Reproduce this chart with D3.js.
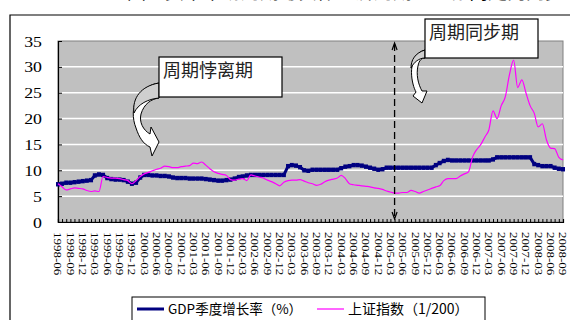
<!DOCTYPE html>
<html>
<head>
<meta charset="utf-8">
<script src="https://cdn.jsdelivr.net/npm/d3@7"></script>
<style>
  html, body { margin: 0; padding: 0; background: #fff; }
  svg { display: block; }
</style>
</head>
<body>
<svg id="chart" width="570" height="320"></svg>
<script>
// Monthly observations, June 1998 – September 2008
const monthStart = new Date(1998, 5, 1);
const monthEnd = new Date(2008, 9, 1);

// GDP quarterly growth rate (%), carried monthly
const gdpGrowth = [
  7.3, 7.4, 7.6, 7.6, 7.7, 7.8, 7.9, 8.0, 8.1, 9.0, 9.2, 9.1,
  8.5, 8.3, 8.2, 8.2, 8.1, 7.8, 7.4, 7.6, 8.6, 9.1, 9.1, 9.0,
  9.0, 8.9, 8.9, 8.8, 8.6, 8.5, 8.5, 8.5, 8.4, 8.4, 8.4, 8.4,
  8.3, 8.2, 8.1, 8.0, 8.0, 8.1, 8.2, 8.4, 8.7, 8.8, 9.0, 9.1,
  9.1, 9.1, 9.1, 9.1, 9.1, 9.1, 9.1, 9.1, 10.8, 11.0, 10.9, 10.6,
  10.0, 9.9, 10.1, 10.1, 10.1, 10.1, 10.1, 10.1, 10.1, 10.4, 10.7, 10.8,
  11.0, 11.0, 10.9, 10.7, 10.5, 10.3, 10.1, 10.2, 10.5, 10.5, 10.5, 10.5,
  10.5, 10.5, 10.5, 10.5, 10.5, 10.5, 10.5, 10.5, 11.0, 11.4, 11.8, 12.0,
  11.9, 11.9, 11.9, 11.9, 11.9, 11.9, 11.9, 11.9, 11.9, 11.9, 12.1, 12.5,
  12.5, 12.5, 12.5, 12.5, 12.5, 12.5, 12.5, 12.5, 11.2, 11.0, 10.8, 10.8,
  10.8, 10.5, 10.3, 10.2
];

// Shanghai Composite Index divided by 200
const shIndex = [
  7.4, 6.8, 6.2, 6.4, 6.6, 6.5, 6.4, 6.1, 5.9, 6.0, 5.9, 8.8,
  8.6, 8.5, 8.5, 8.4, 8.2, 8.0, 7.4, 8.0, 8.8, 9.3, 9.6, 9.9,
  10.2, 10.4, 10.8, 10.7, 10.5, 10.5, 10.7, 10.8, 10.9, 11.4, 11.3, 11.6,
  11.0, 10.3, 9.7, 9.4, 9.2, 9.0, 8.2, 8.1, 8.3, 8.4, 8.0, 9.1,
  8.9, 8.7, 8.5, 8.1, 7.8, 7.4, 7.0, 7.7, 8.0, 8.1, 8.1, 8.2,
  7.9, 7.6, 7.4, 7.1, 7.3, 7.8, 8.1, 8.3, 8.5, 9.0, 8.4, 7.4,
  7.2, 7.1, 7.0, 6.9, 6.8, 6.6, 6.5, 6.3, 6.0, 5.8, 5.6, 5.6,
  5.7, 5.7, 6.1, 5.9, 5.6, 5.9, 6.2, 6.5, 6.8, 7.0, 8.0, 8.4,
  8.4, 8.4, 8.9, 9.3, 9.7, 12.6, 14.0, 15.0, 16.5, 17.8, 21.5, 20.0,
  22.5, 24.2, 28.5, 31.3, 26.0, 27.5, 25.0, 22.5, 21.0, 18.4, 19.0, 15.9,
  14.3, 14.2, 12.5, 12.0
];

// Quarterly axis labels
const tickLabels = [
  "1998-06", "1998-09", "1998-12", "1999-03", "1999-06", "1999-09", "1999-12",
  "2000-03", "2000-06", "2000-09", "2000-12", "2001-03", "2001-06", "2001-09",
  "2001-12", "2002-03", "2002-06", "2002-09", "2002-12", "2003-03", "2003-06",
  "2003-09", "2003-12", "2004-03", "2004-06", "2004-09", "2004-12", "2005-03",
  "2005-06", "2005-09", "2005-12", "2006-03", "2006-06", "2006-09", "2006-12",
  "2007-03", "2007-06", "2007-09", "2007-12", "2008-03", "2008-06", "2008-09"
];
const yTicks = [0, 5, 10, 15, 20, 25, 30, 35];

// Regime annotations
const phaseLabels = ["周期悖离期", "周期同步期"];
const phaseBreak = new Date(2005, 3, 1);
const seriesNames = ["GDP季度增长率（%）", "上证指数（1/200）"];
const titleText = "图 4  资本市场周期与实体经济周期：从悖离走向同步";

const months = d3.timeMonth.range(monthStart, monthEnd);
const fmt = d3.timeFormat("%Y-%m");

const svg = d3.select("#chart");
const W = 570, H = 320;
const plot = { left: 58, right: 563, top: 41, bottom: 222 };

const x = d3.scaleTime()
  .domain([months[0], months[months.length - 1]])
  .range([plot.left, plot.right]);
const y = d3.scaleLinear().domain([0, 35]).range([plot.bottom, plot.top]);

const CJK = "'Noto Sans CJK SC', 'Noto Sans', sans-serif";
const SERIF = "'Liberation Serif', 'DejaVu Serif', serif";

// Title (runs off the top of the frame)
svg.append("text")
  .attr("x", 127).attr("y", -1)
  .attr("font-family", CJK).attr("font-size", 19)
  .attr("fill", "#000")
  .text(titleText);

// Outer frame
svg.append("path")
  .attr("d", `M10,${H + 2} L10,15 L${W + 2},15`)
  .attr("fill", "none").attr("stroke", "#000").attr("stroke-width", 1.2);

// Plot background
svg.append("rect")
  .attr("x", plot.left).attr("y", plot.top)
  .attr("width", plot.right - plot.left).attr("height", plot.bottom - plot.top)
  .attr("fill", "#c0c0c0").attr("stroke", "#808080").attr("stroke-width", 1);

// Horizontal grid
svg.append("g").selectAll("line")
  .data(yTicks.filter(v => v > 0 && v < 35))
  .join("line")
  .attr("x1", plot.left).attr("x2", plot.right)
  .attr("y1", d => y(d)).attr("y2", d => y(d))
  .attr("stroke", "#fff").attr("stroke-width", 1.5);

// Y axis
const yAxis = svg.append("g")
  .attr("transform", `translate(${plot.left},0)`)
  .call(d3.axisLeft(y).tickValues(yTicks).tickSize(-4).tickPadding(0).tickFormat(d3.format("d")));
yAxis.select(".domain").attr("stroke", "#000").attr("stroke-width", 1.2);
yAxis.selectAll(".tick line").attr("stroke", "#000");
yAxis.selectAll(".tick text").remove();
yAxis.selectAll(".tick").append("text")
  .attr("transform", "translate(-16,5) scale(1.27,1)")
  .attr("text-anchor", "end")
  .attr("font-family", SERIF).attr("font-size", 14)
  .attr("fill", "#000")
  .text(d => d);

// X axis: a tick every month, labels every quarter
const xAxis = svg.append("g")
  .attr("transform", `translate(0,${plot.bottom})`)
  .call(d3.axisBottom(x).tickValues(months).tickSize(-3).tickFormat(""));
xAxis.select(".domain").attr("stroke", "#000").attr("stroke-width", 1.2);
xAxis.selectAll(".tick line").attr("stroke", "#000");

const labelMonths = months.filter(m => tickLabels.includes(fmt(m)));
svg.append("g").selectAll("text")
  .data(labelMonths)
  .join("text")
  .attr("transform", d => `translate(${x(d) - 3.6},${plot.bottom + 10}) rotate(90) scale(1.24,1)`)
  .attr("font-family", SERIF).attr("font-size", 10.5)
  .attr("fill", "#000")
  .text(d => tickLabels[tickLabels.indexOf(fmt(d))]);

// Series
const gdpData = months.map((m, i) => ({ m, v: gdpGrowth[i] }));
const shData = months.map((m, i) => ({ m, v: shIndex[i] }));

const line = d3.line().x(d => x(d.m)).y(d => y(d.v));

svg.append("path")
  .datum(gdpData)
  .attr("d", line)
  .attr("fill", "none").attr("stroke", "#000080").attr("stroke-width", 3);
svg.append("g").selectAll("rect")
  .data(gdpData)
  .join("rect")
  .attr("x", d => x(d.m) - 2).attr("y", d => y(d.v) - 2.2)
  .attr("width", 4).attr("height", 4.4)
  .attr("fill", "#000080");

svg.append("path")
  .datum(shData)
  .attr("d", line.curve(d3.curveMonotoneX))
  .attr("fill", "none").attr("stroke", "#ff00ff").attr("stroke-width", 1.2);

// Dashed divider between the two regimes
const bx = x(phaseBreak);
svg.append("line")
  .attr("x1", bx).attr("x2", bx)
  .attr("y1", plot.top + 3).attr("y2", plot.bottom - 4)
  .attr("stroke", "#000").attr("stroke-width", 1.3)
  .attr("stroke-dasharray", "7,4");
svg.append("path")
  .attr("d", `M${bx - 2.5},${plot.top + 9} L${bx},${plot.top + 2} L${bx + 2.5},${plot.top + 9}`)
  .attr("fill", "none").attr("stroke", "#000").attr("stroke-width", 1.2);
svg.append("path")
  .attr("d", `M${bx - 2.5},${plot.bottom - 10} L${bx},${plot.bottom - 3} L${bx + 2.5},${plot.bottom - 10}`)
  .attr("fill", "none").attr("stroke", "#000").attr("stroke-width", 1.2);

// Curved callout arrows
function curvedArrow(d, shade) {
  svg.append("path").attr("d", d)
    .attr("fill", "#fff").attr("stroke", "#000").attr("stroke-width", 1);
  svg.append("path").attr("d", shade)
    .attr("fill", "#cfcfcf").attr("stroke", "#000").attr("stroke-width", 1);
}
curvedArrow(
  "M159,83 C138,86 128,108 136,128 C139,137 143,144 150,147 L152,156 L159,142 L151,127 L150,134 C143,130 139,122 141,114 C144,104 151,99 159,98 Z",
  "M159,83 C141,86 132,98 134,113 C138,104 148,99 159,98 Z"
);
curvedArrow(
  "M425,50 C413,53 409,68 413,84 C414,88 415,90 416,92 L413,96 L422,103 L427,91 L422,91 C418,84 416,74 418,66 C419,60 422,58 425,58 Z",
  "M425,50 C415,53 411,60 411,68 C414,62 419,58 425,58 Z"
);

// Callout boxes
const boxes = [
  { x: 159, y: 57, w: 123, h: 40, text: phaseLabels[0] },
  { x: 425, y: 19, w: 113, h: 39, text: phaseLabels[1] }
];
boxes.forEach(b => {
  svg.append("rect")
    .attr("x", b.x).attr("y", b.y).attr("width", b.w).attr("height", b.h)
    .attr("fill", "#fff").attr("stroke", "#000").attr("stroke-width", 1.2);
  svg.append("text")
    .attr("x", b.x + 4).attr("y", b.y + 20)
    .attr("font-family", CJK).attr("font-size", 18)
    .attr("fill", "#222")
    .text(b.text);
});

// Legend
const lg = svg.append("g");
lg.append("rect")
  .attr("x", 132).attr("y", 297).attr("width", 353).attr("height", 30)
  .attr("fill", "#fff").attr("stroke", "#000").attr("stroke-width", 1);
lg.append("line")
  .attr("x1", 137).attr("x2", 164).attr("y1", 309).attr("y2", 309)
  .attr("stroke", "#000080").attr("stroke-width", 3);
lg.append("text")
  .attr("x", 168).attr("y", 314)
  .attr("font-family", CJK).attr("font-size", 13.5).attr("fill", "#000")
  .text(seriesNames[0]);
lg.append("line")
  .attr("x1", 317).attr("x2", 344).attr("y1", 309).attr("y2", 309)
  .attr("stroke", "#ff00ff").attr("stroke-width", 1.2);
lg.append("text")
  .attr("x", 348).attr("y", 314)
  .attr("font-family", CJK).attr("font-size", 14).attr("fill", "#000")
  .text(seriesNames[1]);
</script>
</body>
</html>
